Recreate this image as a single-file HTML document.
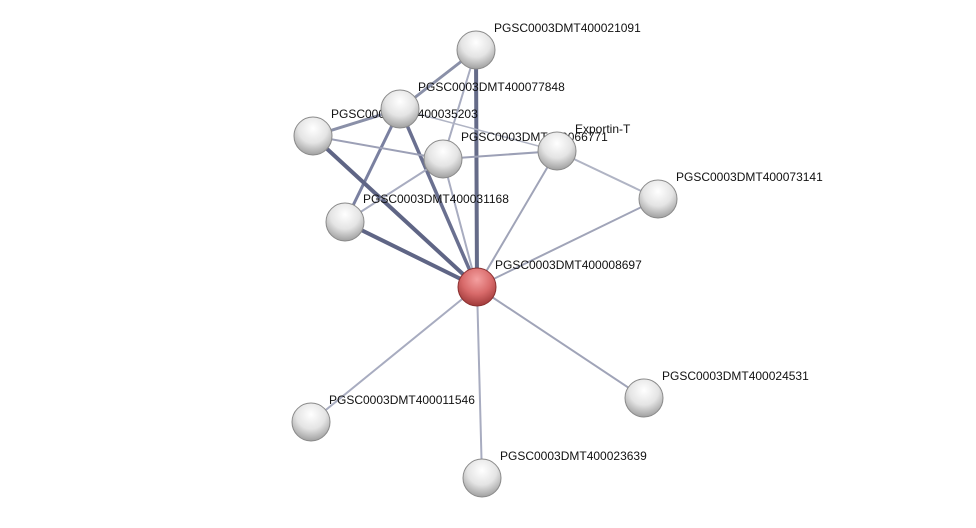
<!DOCTYPE html>
<html><head><meta charset="utf-8"><style>
html,body{margin:0;padding:0;background:#fff;}
svg text{font-family:"Liberation Sans",sans-serif;font-size:12px;fill:#111;}
</style></head><body>
<svg width="976" height="523" viewBox="0 0 976 523" xmlns="http://www.w3.org/2000/svg">
<defs>
<radialGradient id="g" cx="0.5" cy="0.3" r="0.7">
<stop offset="0" stop-color="#ffffff"/><stop offset="0.55" stop-color="#e4e4e4"/><stop offset="1" stop-color="#a0a0a0"/>
</radialGradient>
<radialGradient id="r" cx="0.5" cy="0.3" r="0.7">
<stop offset="0" stop-color="#f4a0a0"/><stop offset="0.55" stop-color="#d86a6a"/><stop offset="1" stop-color="#a03a3a"/>
</radialGradient>
</defs>
<g stroke-linecap="round">
<line x1="476" y1="50" x2="400" y2="109" stroke="#8a90a8" stroke-width="3"/>
<line x1="476" y1="50" x2="443" y2="159" stroke="#a8acc0" stroke-width="2"/>
<line x1="476" y1="50" x2="477" y2="287" stroke="#656b88" stroke-width="4"/>
<line x1="400" y1="109" x2="313" y2="136" stroke="#8a90a8" stroke-width="3"/>
<line x1="400" y1="109" x2="345" y2="222" stroke="#7a80a0" stroke-width="3"/>
<line x1="400" y1="109" x2="477" y2="287" stroke="#6a7090" stroke-width="3.5"/>
<line x1="400" y1="109" x2="557" y2="151" stroke="#b0b4c4" stroke-width="1.5"/>
<line x1="313" y1="136" x2="443" y2="159" stroke="#9ca0b6" stroke-width="2"/>
<line x1="313" y1="136" x2="477" y2="287" stroke="#5f6585" stroke-width="4"/>
<line x1="443" y1="159" x2="557" y2="151" stroke="#9ca0b6" stroke-width="2"/>
<line x1="443" y1="159" x2="345" y2="222" stroke="#a8acc0" stroke-width="2"/>
<line x1="443" y1="159" x2="477" y2="287" stroke="#a8acc0" stroke-width="2"/>
<line x1="557" y1="151" x2="658" y2="199" stroke="#b0b4c4" stroke-width="2"/>
<line x1="557" y1="151" x2="477" y2="287" stroke="#a0a4b8" stroke-width="2"/>
<line x1="658" y1="199" x2="477" y2="287" stroke="#a0a4b8" stroke-width="2"/>
<line x1="345" y1="222" x2="477" y2="287" stroke="#5f6585" stroke-width="4"/>
<line x1="477" y1="287" x2="644" y2="398" stroke="#a0a4b8" stroke-width="2"/>
<line x1="477" y1="287" x2="311" y2="422" stroke="#a8acc0" stroke-width="2"/>
<line x1="477" y1="287" x2="482" y2="478" stroke="#a8acc0" stroke-width="2"/>
</g>
<g>
<text x="494" y="32">PGSC0003DMT400021091</text>
<text x="418" y="91">PGSC0003DMT400077848</text>
<text x="331" y="118">PGSC0003DMT400035203</text>
<text x="461" y="141">PGSC0003DMT400066771</text>
<text x="575" y="133">Exportin-T</text>
<text x="676" y="181">PGSC0003DMT400073141</text>
<text x="363" y="203">PGSC0003DMT400031168</text>
<text x="495" y="269">PGSC0003DMT400008697</text>
<text x="662" y="380">PGSC0003DMT400024531</text>
<text x="329" y="404">PGSC0003DMT400011546</text>
<text x="500" y="460">PGSC0003DMT400023639</text>
</g>
<g stroke="#8a8a8a" stroke-width="1">
<circle cx="476" cy="50" r="19" fill="url(#g)"/>
<circle cx="400" cy="109" r="19" fill="url(#g)"/>
<circle cx="313" cy="136" r="19" fill="url(#g)"/>
<circle cx="443" cy="159" r="19" fill="url(#g)"/>
<circle cx="557" cy="151" r="19" fill="url(#g)"/>
<circle cx="658" cy="199" r="19" fill="url(#g)"/>
<circle cx="345" cy="222" r="19" fill="url(#g)"/>
<circle cx="644" cy="398" r="19" fill="url(#g)"/>
<circle cx="311" cy="422" r="19" fill="url(#g)"/>
<circle cx="482" cy="478" r="19" fill="url(#g)"/>
<circle cx="477" cy="287" r="19" fill="url(#r)" stroke="#8a3030"/>
</g>
</svg>
</body></html>
